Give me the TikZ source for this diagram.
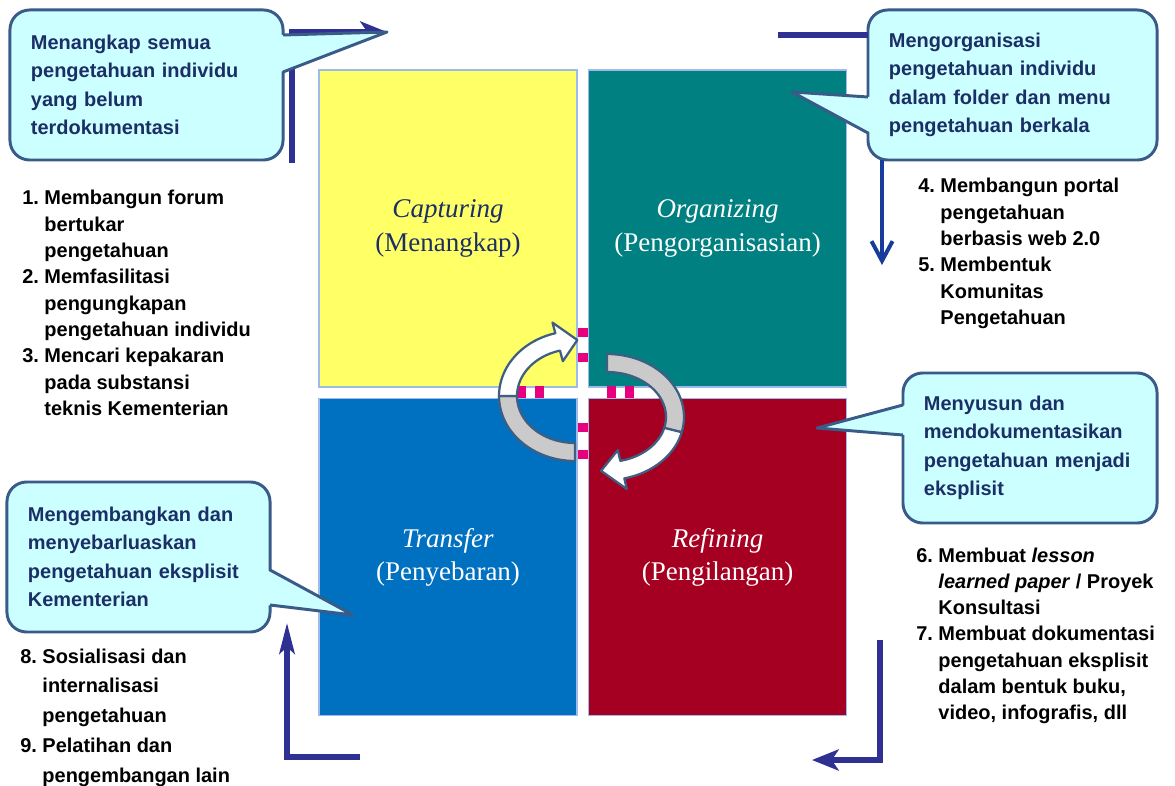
\documentclass[tikz,border=0pt]{standalone}
\usepackage{fontspec}
\setmainfont{Liberation Serif}
\setsansfont{Liberation Sans}
\usetikzlibrary{calc}
\usetikzlibrary{arrows.meta}

\definecolor{capyellow}{HTML}{FFFF66}
\definecolor{captext}{HTML}{1B2F66}
\definecolor{orgteal}{HTML}{008080}
\definecolor{trfblue}{HTML}{0070C0}
\definecolor{refred}{HTML}{A50021}
\definecolor{quadline}{HTML}{9DBBEA}
\definecolor{notefill}{HTML}{CCFFFF}
\definecolor{noteline}{HTML}{3A5B88}
\definecolor{notetext}{HTML}{1B2F66}
\definecolor{cycleline}{HTML}{2E3192}
\definecolor{downblue}{HTML}{183C9C}
\definecolor{dashpink}{HTML}{E6007E}
\definecolor{ribline}{HTML}{3F5F82}
\definecolor{ribgray}{HTML}{CACACA}

\newcommand\listfont{\sffamily\bfseries\fontsize{14.2pt}{18.7pt}\selectfont}
\newcommand\listfontwide{\sffamily\bfseries\fontsize{14.2pt}{21.3pt}\selectfont}
\newcommand\notefont{\sffamily\bfseries\fontsize{14.2pt}{20.3pt}\selectfont}
\newcommand\quadfont{\rmfamily\fontsize{19.2pt}{23.5pt}\selectfont}

\begin{document}
\begin{tikzpicture}[x=0.025cm, y=-0.025cm,
  quad/.style={minimum width=6.45cm, minimum height=7.925cm, draw=quadline, line width=1.2pt, inner sep=0pt, align=center, font=\quadfont},
  notebox/.style={draw=noteline, fill=notefill, line width=2.1pt, rounded corners=14pt, minimum height=3.75cm, inner xsep=0.525cm, outer sep=0pt, align=left, text=notetext, font=\notefont},
  notetip/.style={draw=noteline, line width=2.1pt, line join=round},
  cyclearrow/.style={draw=cycleline, line width=3.6pt, -{Stealth[length=19pt, width=15pt, inset=5pt]}},
  ribbon/.style={draw=ribline, line width=1.6pt, line join=round, samples=30},
  listbox/.style={anchor=base west, inner sep=0pt}]
  \fill [white] (0,0) rectangle (1175,786);
  \useasboundingbox (0,0) rectangle (1175,786);

  % the four quadrants
  \node [quad, fill=capyellow, text=captext] (cap) at (448,228.5) {\textit{Capturing}\\(Menangkap)};
  \node [quad, fill=orgteal, text=white] (org) at (717.5,228.5) {\textit{Organizing}\\(Pengorganisasian)};
  \node [quad, fill=trfblue, text=white] (trf) at (448,557) {\textit{Transfer}\\(Penyebaran)};
  \node [quad, fill=refred, text=white] (ref) at (717.5,557) {\textit{Refining}\\(Pengilangan)};
  \foreach \y in {328,353,423,450}
    \fill [dashpink] (578,\y) rectangle (588,\y+9);
  \foreach \x in {517,535,607,625}
    \fill [dashpink] (\x,386) rectangle (\x+9,398);

  % turning arrows in the middle
  \filldraw [ribbon, fill=ribgray] plot[domain=90:180] ({575+76*cos(\x)},{396+65*sin(\x)})
    -- plot[domain=180:90] ({575+58*cos(\x)},{396+47*sin(\x)}) -- cycle;
  \filldraw [ribbon, fill=white] plot[domain=180:255] ({575+76*cos(\x)},{396+65*sin(\x)})
    -- ({575+87*cos(255)},{396+76*sin(255)}) -- ({575+67*cos(272)},{396+56*sin(272)})
    -- ({575+47*cos(255)},{396+36*sin(255)})
    -- plot[domain=255:180] ({575+58*cos(\x)},{396+47*sin(\x)}) -- cycle;
  \filldraw [ribbon, fill=ribgray] plot[domain=270:374] ({607+77*cos(\x)},{417+63*sin(\x)})
    -- plot[domain=374:270] ({607+59*cos(\x)},{417+45*sin(\x)}) -- cycle;
  \filldraw [ribbon, fill=white] plot[domain=374:437] ({607+77*cos(\x)},{417+63*sin(\x)})
    -- ({607+88*cos(437)},{417+74*sin(437)}) -- ({607+68*cos(455)},{417+54*sin(455)})
    -- ({607+48*cos(437)},{417+34*sin(437)})
    -- plot[domain=437:374] ({607+59*cos(\x)},{417+45*sin(\x)}) -- cycle;

  % outer cycle
  \coordinate (capstart) at (292,163);
  \coordinate (capend) at (387,32);
  \coordinate (orgstart) at (778,35);
  \coordinate (orgend) at (882,265);
  \coordinate (refstart) at (880,640);
  \coordinate (refend) at (812,760);
  \coordinate (trfstart) at (360,757);
  \coordinate (trfend) at (287,623);
  \draw [cyclearrow] (capstart) |- (capend);
  \draw [cyclearrow] (refstart) |- (refend);
  \draw [cyclearrow, -{Stealth[length=22pt, width=11pt, inset=5pt]}] (trfstart) -| (trfend);

  % notes
  \node [notebox, text width=5.775cm] (capnote) at (146.5,85) {Menangkap semua\\pengetahuan individu\\yang belum\\terdokumentasi};
  \node [notebox, text width=6.175cm] (orgnote) at (1012.5,85) {Mengorganisasi\\pengetahuan individu\\dalam folder dan menu\\pengetahuan berkala};
  \node [notebox, text width=5.3cm] (refnote) at (1030,448) {Menyusun dan\\mendokumentasikan\\pengetahuan menjadi\\eksplisit};
  \node [notebox, text width=5.525cm] (trfnote) at (138.5,557) {Mengembangkan dan\\menyebarluaskan\\pengetahuan eksplisit\\Kementerian};
  \draw [draw=cycleline, line width=3.6pt] (orgstart) -- (orgstart -| orgnote.west);
  \draw [draw=downblue, line width=2.8pt, -{Straight Barb[length=14pt, width=15pt]}] (orgnote.south -| orgend) -- (orgend);

  \coordinate (captip) at (387,32);
  \coordinate (orgtip) at (792,92);
  \coordinate (reftip) at (817,428);
  \coordinate (trftip) at (353,615);
  \fill [notefill] ($(capnote.east)+(-3,-50)$) -- (captip) -- ($(capnote.east)+(-3,-13)$) -- cycle;
  \draw [notetip] ($(capnote.east)+(0,-50)$) -- (captip) -- ($(capnote.east)+(0,-13)$);
  \fill [notefill] ($(orgnote.west)+(3,12)$) -- (orgtip) -- ($(orgnote.west)+(3,48)$) -- cycle;
  \draw [notetip] ($(orgnote.west)+(0,12)$) -- (orgtip) -- ($(orgnote.west)+(0,48)$);
  \fill [notefill] ($(refnote.west)+(3,-43)$) -- (reftip) -- ($(refnote.west)+(3,-13)$) -- cycle;
  \draw [notetip] ($(refnote.west)+(0,-43)$) -- (reftip) -- ($(refnote.west)+(0,-13)$);
  \fill [notefill] ($(trfnote.east)+(-3,13)$) -- (trftip) -- ($(trfnote.east)+(-3,48)$) -- cycle;
  \draw [notetip] ($(trfnote.east)+(0,13)$) -- (trftip) -- ($(trfnote.east)+(0,48)$);

  % lists of activities
  \node [listbox, font=\listfont] (caplist) at (22,205) {\begin{tabular}[t]{@{}l@{~}l@{}}
    1. & Membangun forum\\ & bertukar\\ & pengetahuan\\
    2. & Memfasilitasi\\ & pengungkapan\\ & pengetahuan individu\\
    3. & Mencari kepakaran\\ & pada substansi\\ & teknis Kementerian\end{tabular}};
  \node [listbox, font=\listfont] (orglist) at (918,193) {\begin{tabular}[t]{@{}l@{~}l@{}}
    4. & Membangun portal\\ & pengetahuan\\ & berbasis web 2.0\\
    5. & Membentuk\\ & Komunitas\\ & Pengetahuan\end{tabular}};
  \node [listbox, font=\listfont] (reflist) at (916,562) {\begin{tabular}[t]{@{}l@{~}l@{}}
    6. & Membuat \textit{lesson}\\ & \textit{learned paper} / Proyek\\ & Konsultasi\\
    7. & Membuat dokumentasi\\ & pengetahuan eksplisit\\ & dalam bentuk buku,\\ & video, infografis, dll\end{tabular}};
  \node [listbox, font=\listfontwide] (trflist) at (20,663) {\begin{tabular}[t]{@{}l@{~}l@{}}
    8. & Sosialisasi dan\\ & internalisasi\\ & pengetahuan\\
    9. & Pelatihan dan\\ & pengembangan lain\end{tabular}};
\end{tikzpicture}
\end{document}
